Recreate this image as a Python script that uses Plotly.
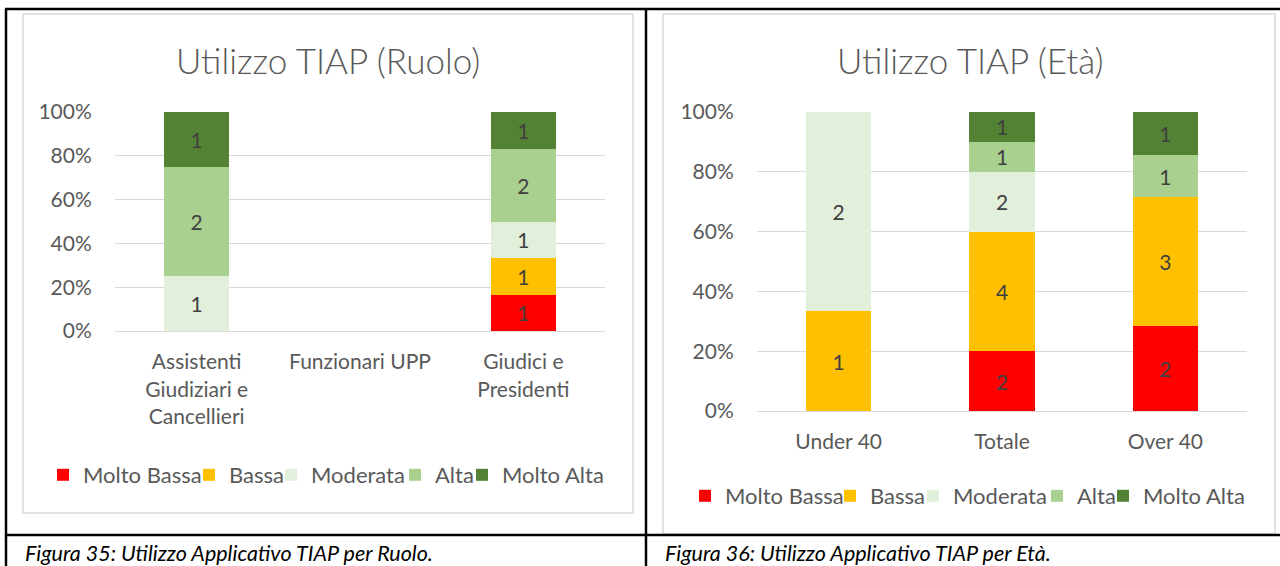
import plotly.graph_objects as go

# ---------------- data ----------------
levels = ["Molto Bassa", "Bassa", "Moderata", "Alta", "Molto Alta"]
level_colors = ["#FF0000", "#FFC000", "#E2EFDA", "#A9D08E", "#548235"]

ruolo_categories = ["Assistenti<br>Giudiziari e<br>Cancellieri", "Funzionari UPP", "Giudici e<br>Presidenti"]
ruolo_molto_bassa = [0, 0, 1]
ruolo_bassa = [0, 0, 1]
ruolo_moderata = [1, 0, 1]
ruolo_alta = [2, 0, 2]
ruolo_molto_alta = [1, 0, 1]

eta_categories = ["Under 40", "Totale", "Over 40"]
eta_molto_bassa = [0, 2, 2]
eta_bassa = [1, 4, 3]
eta_moderata = [2, 2, 0]
eta_alta = [0, 1, 1]
eta_molto_alta = [0, 1, 1]

y_ticks = [0, 20, 40, 60, 80, 100]
y_tick_labels = ["0%", "20%", "40%", "60%", "80%", "100%"]

title_ruolo = "Utilizzo TIAP (Ruolo)"
title_eta = "Utilizzo TIAP (Età)"
caption_ruolo = "Figura 35: Utilizzo Applicativo TIAP per Ruolo."
caption_eta = "Figura 36: Utilizzo Applicativo TIAP per Età."

# ---------------- figure ----------------
W, H = 1280, 566
FONT = "Lato"
GREY = "#595959"
LABEL = "#404040"


def px(x):
    return x / W


def py(y):
    return 1 - y / H


# legend entry text positions (pixels) for each chart
legend_text_x_ruolo = [83, 229, 311, 435, 502]
legend_text_x_eta = [725, 870, 953, 1077, 1143]
LEGEND_Y_RUOLO = 475
LEGEND_Y_ETA = 496
LEGEND_OFFSET = 40

fig = go.Figure()

ruolo_series = [ruolo_molto_bassa, ruolo_bassa, ruolo_moderata, ruolo_alta, ruolo_molto_alta]
eta_series = [eta_molto_bassa, eta_bassa, eta_moderata, eta_alta, eta_molto_alta]

legend_layouts = {}
legend_common = dict(
    orientation="h", xanchor="left", yanchor="middle", bgcolor="rgba(0,0,0,0)",
    font=dict(family=FONT, size=22, color=GREY), borderwidth=0,
    itemclick=False, itemdoubleclick=False,
)

k = 0
for i, (name, color, vals) in enumerate(zip(levels, level_colors, ruolo_series)):
    k += 1
    lname = "legend" if k == 1 else f"legend{k}"
    legend_layouts[lname] = dict(x=px(legend_text_x_ruolo[i] - LEGEND_OFFSET), y=py(LEGEND_Y_RUOLO), **legend_common)
    fig.add_trace(go.Bar(
        x=ruolo_categories, y=vals, name=name, marker=dict(color=color, line=dict(width=0)),
        text=[str(v) if v else "" for v in vals], textposition="inside",
        insidetextanchor="middle", textangle=0, constraintext="none",
        textfont=dict(family=FONT, size=21, color=LABEL),
        xaxis="x", yaxis="y", legend=lname, hoverinfo="skip",
    ))

for i, (name, color, vals) in enumerate(zip(levels, level_colors, eta_series)):
    k += 1
    lname = f"legend{k}"
    legend_layouts[lname] = dict(x=px(legend_text_x_eta[i] - LEGEND_OFFSET), y=py(LEGEND_Y_ETA), **legend_common)
    fig.add_trace(go.Bar(
        x=eta_categories, y=vals, name=name, marker=dict(color=color, line=dict(width=0)),
        text=[str(v) if v else "" for v in vals], textposition="inside",
        insidetextanchor="middle", textangle=0, constraintext="none",
        textfont=dict(family=FONT, size=21, color=LABEL),
        xaxis="x2", yaxis="y2", legend=lname, hoverinfo="skip",
    ))

yaxis_common = dict(
    range=[0, 100], tickmode="array", tickvals=y_ticks, ticktext=y_tick_labels, showgrid=True,
    gridcolor="#D9D9D9", gridwidth=1, zeroline=True, zerolinecolor="#D9D9D9",
    zerolinewidth=1, showline=False, ticks="outside", ticklen=18,
    tickcolor="rgba(0,0,0,0)", tickfont=dict(family=FONT, size=21, color=GREY),
    fixedrange=True, automargin=False,
)
xaxis_common = dict(
    showgrid=False, zeroline=False, showline=False, ticks="outside", ticklen=12,
    tickcolor="rgba(0,0,0,0)", tickfont=dict(family=FONT, size=21, color=GREY),
    fixedrange=True, automargin=False,
)

fig.update_layout(
    width=W, height=H, margin=dict(l=0, r=0, t=0, b=0, pad=0), autosize=False,
    paper_bgcolor="white", plot_bgcolor="white",
    barmode="stack", barnorm="percent", bargap=0.6,
    showlegend=True,
    xaxis=dict(domain=[px(115), px(605)], anchor="y", **xaxis_common),
    yaxis=dict(domain=[py(331), py(112)], anchor="x", **yaxis_common),
    xaxis2=dict(domain=[px(757), px(1247)], anchor="y2", **xaxis_common),
    yaxis2=dict(domain=[py(411), py(112)], anchor="x2", **yaxis_common),
    **legend_layouts,
)

shapes = []
# chart boxes
shapes.append(dict(type="rect", xref="paper", yref="paper", x0=px(23), x1=px(633), y0=py(513), y1=py(14),
                   line=dict(color="#D9D9D9", width=1.5), layer="below"))
shapes.append(dict(type="rect", xref="paper", yref="paper", x0=px(663), x1=px(1275), y0=py(534), y1=py(14),
                   line=dict(color="#D9D9D9", width=1.5), layer="below"))
# table borders
black = dict(color="black", width=2.5)
shapes.append(dict(type="line", xref="paper", yref="paper", x0=px(5), x1=px(1280), y0=py(9), y1=py(9), line=black))
shapes.append(dict(type="line", xref="paper", yref="paper", x0=px(5), x1=px(1280), y0=py(535), y1=py(535), line=black))
shapes.append(dict(type="line", xref="paper", yref="paper", x0=px(6), x1=px(6), y0=py(9), y1=py(566), line=black))
shapes.append(dict(type="line", xref="paper", yref="paper", x0=px(646), x1=px(646), y0=py(9), y1=py(566), line=black))
fig.update_layout(shapes=shapes)

annotations = [
    dict(text=title_ruolo, x=px(328), y=py(60), xref="paper", yref="paper", xanchor="center",
         yanchor="middle", showarrow=False, font=dict(family=FONT, size=35, color=GREY, weight=300)),
    dict(text=title_eta, x=px(970), y=py(60), xref="paper", yref="paper", xanchor="center",
         yanchor="middle", showarrow=False, font=dict(family=FONT, size=35, color=GREY, weight=300)),
    dict(text=caption_ruolo, x=px(23), y=py(553), xref="paper", yref="paper", xanchor="left",
         yanchor="middle", showarrow=False, font=dict(family=FONT, size=21.5, color="black", style="italic")),
    dict(text=caption_eta, x=px(663), y=py(553), xref="paper", yref="paper", xanchor="left",
         yanchor="middle", showarrow=False, font=dict(family=FONT, size=21.5, color="black", style="italic")),
]
fig.update_layout(annotations=annotations)

fig.write_html(
    "out.html",
    config={"responsive": False, "displayModeBar": False},
    post_script=(
        "document.documentElement.style.margin='0';"
        "document.documentElement.style.overflow='hidden';"
        "document.body.style.margin='0';"
        "document.body.style.overflow='hidden';"
        "var gd=document.getElementById('{plot_id}');"
        "gd.style.position='fixed';gd.style.top='0px';gd.style.left='0px';"
    ),
)
